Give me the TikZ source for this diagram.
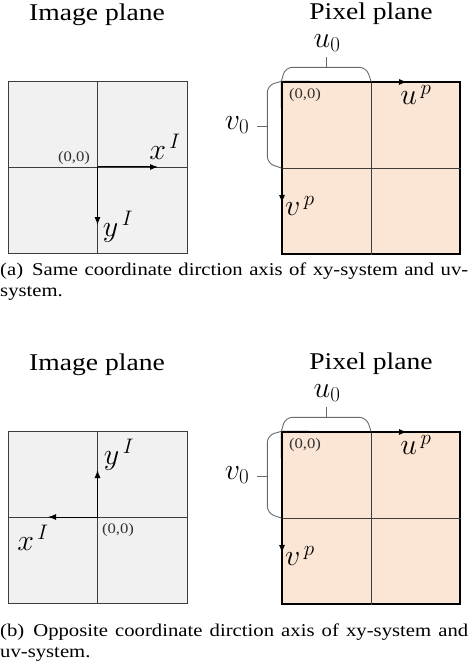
\RequirePackage{fix-cm}
\documentclass[tikz,border=0pt]{standalone}
\usepackage[no-math]{fontspec}
\setmainfont{Liberation Serif}[FakeStretch=1.15]
\usepackage{tikz}
\usetikzlibrary{arrows.meta,positioning}
\definecolor{imgfill}{RGB}{241,241,241}
\definecolor{pixfill}{RGB}{251,229,212}
\definecolor{edgegray}{RGB}{60,60,60}
\definecolor{bracegray}{RGB}{105,105,105}
\tikzset{
  ptitle/.style={font=\fontsize{24}{28}\selectfont, inner sep=0pt},
  pcaption/.style={font=\fontsize{18}{20.5}\selectfont, text width=468pt, align=justify, inner sep=0pt, anchor=north west},
  pmath/.style={font=\fontsize{30}{34}\selectfont, inner sep=0pt},
  porig/.style={font=\fontsize{14.5}{16}\selectfont, text=black!80, inner sep=0pt},
  imgbox/.style={draw=edgegray, fill=imgfill, line width=0.8pt, minimum width=179pt, minimum height=172pt, inner sep=0pt},
  pixbox/.style={draw=black, fill=pixfill, line width=1.3pt, minimum width=178pt, minimum height=172pt, inner sep=0pt},
  gridln/.style={draw=edgegray, line width=0.8pt},
  paxis/.style={-{Latex[length=8pt,width=6pt]}, line width=1pt},
  pbrace/.style={draw=bracegray, line width=0.9pt, rounded corners=7pt},
}

\begin{document}
\begin{tikzpicture}[x=1pt, y=-1pt]
  \useasboundingbox (0,0) rectangle (468,671);

  % (a) same direction
  \node[ptitle] (imgtitleA) at (97,15) {Image plane};
  \node[ptitle] (pixtitleA) at (371,14) {Pixel plane};

  \node[imgbox] (imgA) at (97.5,167) {};
  \draw[gridln] (imgA.north) -- (imgA.south);
  \draw[gridln] (imgA.west) -- (imgA.east);
  \coordinate (xtipA) at (158,167);
  \coordinate (ytipA) at (97.5,225);
  \draw[paxis] (imgA.center) -- (xtipA);
  \draw[paxis] (imgA.center) -- (ytipA);
  \node[pmath] (xlblA) at (165,147) {$x^{\mkern3mu I}$};
  \node[pmath] (ylblA) at (118,227) {$y^{\mkern3mu I}$};
  \node[porig] (origA) at (74,158) {(0,0)};

  \node[pixbox] (pixA) at (371,168) {};
  \draw[gridln] (pixA.north) -- (pixA.south);
  \draw[gridln] (pixA.west) -- (pixA.east);
  \coordinate (utipA) at (407,82);
  \coordinate (vtipA) at (282,203);
  \draw[paxis] (pixA.north west) -- (utipA);
  \draw[paxis] (pixA.north west) -- (vtipA);
  \node[pmath] (ulblA) at (416,95) {$u^{\mkern3mu p}$};
  \node[pmath] (vlblA) at (300,206) {$v^{\mkern3mu p}$};
  \node[porig] (porigA) at (305,95) {(0,0)};
  \draw[pbrace] (pixA.north west) -- ++(4,-14) -- ++(81,0) -- (pixA.north);
  \draw[pbrace] (pixA.north west) -- ++(-14,4) -- ++(0,78) -- (pixA.west);
  \coordinate (ubraceA) at (326,68);
  \coordinate (vbraceA) at (268,126);
  \node[pmath] (uzeroA) at (327,43) {$u_0$};
  \node[pmath] (vzeroA) at (237,125) {$v_0$};
  \draw[pbrace] (ubraceA) -- ++(0,-11);
  \draw[pbrace] (vbraceA) -- ++(-11,0);

  \node[pcaption] (capA) at (0,263)
    {(a)\enspace Same coordinate dirction axis of xy-system and uv-\linebreak system.};

  % (b) opposite direction
  \begin{scope}[shift={(0,350)}]
    \node[ptitle] (imgtitleB) at (97,15) {Image plane};
    \node[ptitle] (pixtitleB) at (371,14) {Pixel plane};

    \node[imgbox] (imgB) at (97.5,167) {};
    \draw[gridln] (imgB.north) -- (imgB.south);
    \draw[gridln] (imgB.west) -- (imgB.east);
    \coordinate (xtipB) at (48,167);
    \coordinate (ytipB) at (97.5,120);
    \draw[paxis] (imgB.center) -- (xtipB);
    \draw[paxis] (imgB.center) -- (ytipB);
    \node[pmath] (xlblB) at (33,188) {$x^{\mkern3mu I}$};
    \node[pmath] (ylblB) at (119,105) {$y^{\mkern3mu I}$};
    \node[porig] (origB) at (118,180) {(0,0)};

    \node[pixbox] (pixB) at (371,168) {};
    \draw[gridln] (pixB.north) -- (pixB.south);
    \draw[gridln] (pixB.west) -- (pixB.east);
    \coordinate (utipB) at (407,82);
    \coordinate (vtipB) at (282,203);
    \draw[paxis] (pixB.north west) -- (utipB);
    \draw[paxis] (pixB.north west) -- (vtipB);
    \node[pmath] (ulblB) at (416,95) {$u^{\mkern3mu p}$};
    \node[pmath] (vlblB) at (300,206) {$v^{\mkern3mu p}$};
    \node[porig] (porigB) at (305,95) {(0,0)};
    \draw[pbrace] (pixB.north west) -- ++(4,-14) -- ++(81,0) -- (pixB.north);
    \draw[pbrace] (pixB.north west) -- ++(-14,4) -- ++(0,78) -- (pixB.west);
    \coordinate (ubraceB) at (326,68);
    \coordinate (vbraceB) at (268,126);
    \node[pmath] (uzeroB) at (327,43) {$u_0$};
    \node[pmath] (vzeroB) at (237,125) {$v_0$};
    \draw[pbrace] (ubraceB) -- ++(0,-11);
    \draw[pbrace] (vbraceB) -- ++(-11,0);
  \end{scope}

  \node[pcaption] (capB) at (0,624)
    {(b)\enspace Opposite coordinate dirction axis of xy-system and\linebreak uv-system.};
\end{tikzpicture}
\end{document}
